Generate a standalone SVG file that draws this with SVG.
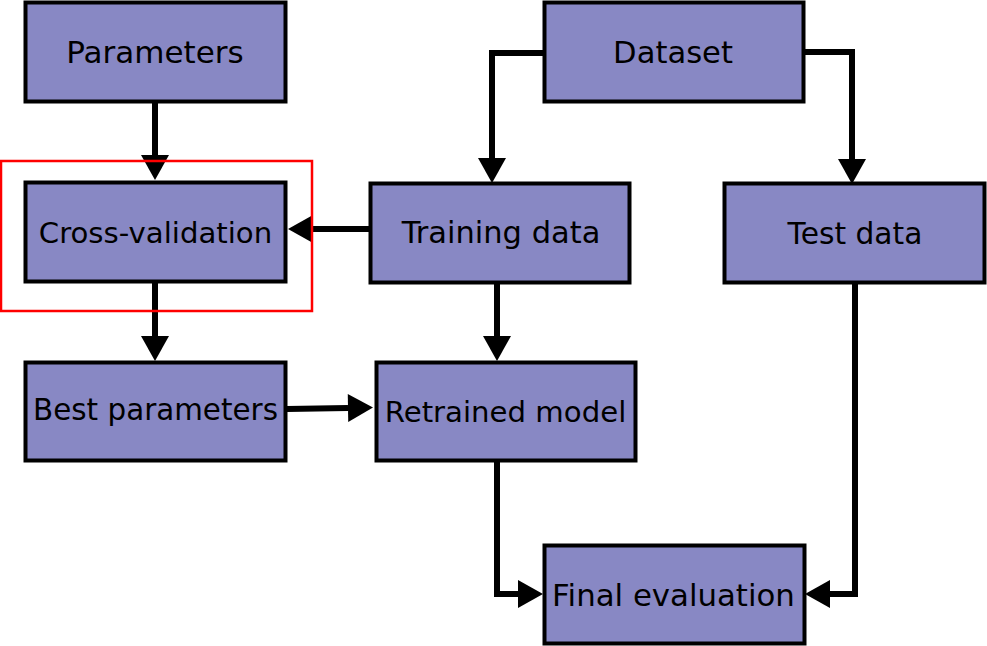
<svg xmlns="http://www.w3.org/2000/svg" width="987" height="646" viewBox="0 0 987 646">
<style>
.box{fill:#8888c4;stroke:#000;stroke-width:4}
.lbl{font-family:"DejaVu Sans",sans-serif;fill:#000;text-anchor:middle}
.edge{fill:none;stroke:#000;stroke-width:6}
</style>
<defs>
<marker id="ah" markerUnits="userSpaceOnUse" markerWidth="26" markerHeight="30" refX="0" refY="14" orient="auto" overflow="visible">
<path d="M0,0 L25,14 L0,28 Z" fill="#000"/>
</marker>
</defs>
<rect width="987" height="646" fill="#fff"/>
<g id="connectors">
<path class="edge" d="M155,102 V155" marker-end="url(#ah)"/>
<path class="edge" d="M543,53 H492 V158" marker-end="url(#ah)"/>
<path class="edge" d="M805,52 H852 V159" marker-end="url(#ah)"/>
<path class="edge" d="M369,229 H313" marker-end="url(#ah)"/>
<path class="edge" d="M155,283 V336" marker-end="url(#ah)"/>
<path class="edge" d="M497,283 V336" marker-end="url(#ah)"/>
<path class="edge" d="M287,409 L348,408" marker-end="url(#ah)"/>
<path class="edge" d="M497,461 V594 H518" marker-end="url(#ah)"/>
<path class="edge" d="M855,283 V594 H830" marker-end="url(#ah)"/>
</g>
<g id="n-parameters">
<rect class="box" x="25.5" y="2.5" width="260" height="99"/>
<text class="lbl" x="155" y="63" font-size="31">Parameters</text>
</g>
<g id="n-cv">
<rect class="box" x="25.5" y="182.5" width="260" height="99"/>
<text class="lbl" x="155.5" y="243" font-size="29.2">Cross-validation</text>
</g>
<g id="n-best">
<rect class="box" x="25.5" y="362.5" width="260" height="98"/>
<text class="lbl" x="155.5" y="420" font-size="29.4">Best parameters</text>
</g>
<g id="n-dataset">
<rect class="box" x="544.5" y="2.5" width="259" height="99"/>
<text class="lbl" x="673" y="63" font-size="30.6">Dataset</text>
</g>
<g id="n-training">
<rect class="box" x="370.5" y="183.5" width="259" height="99"/>
<text class="lbl" x="501" y="243" font-size="30.5">Training data</text>
</g>
<g id="n-test">
<rect class="box" x="724.5" y="183.5" width="260" height="99"/>
<text class="lbl" x="855" y="244" font-size="29.7">Test data</text>
</g>
<g id="n-retrained">
<rect class="box" x="376.5" y="362.5" width="259" height="98"/>
<text class="lbl" x="505.5" y="422" font-size="29.2">Retrained model</text>
</g>
<g id="n-final">
<rect class="box" x="544.5" y="545.5" width="260" height="98"/>
<text class="lbl" x="673.5" y="606" font-size="30.8">Final evaluation</text>
</g>
<rect id="highlight" x="1" y="161" width="311" height="150" fill="none" stroke="#ff0000" stroke-width="2.5"/>
</svg>
